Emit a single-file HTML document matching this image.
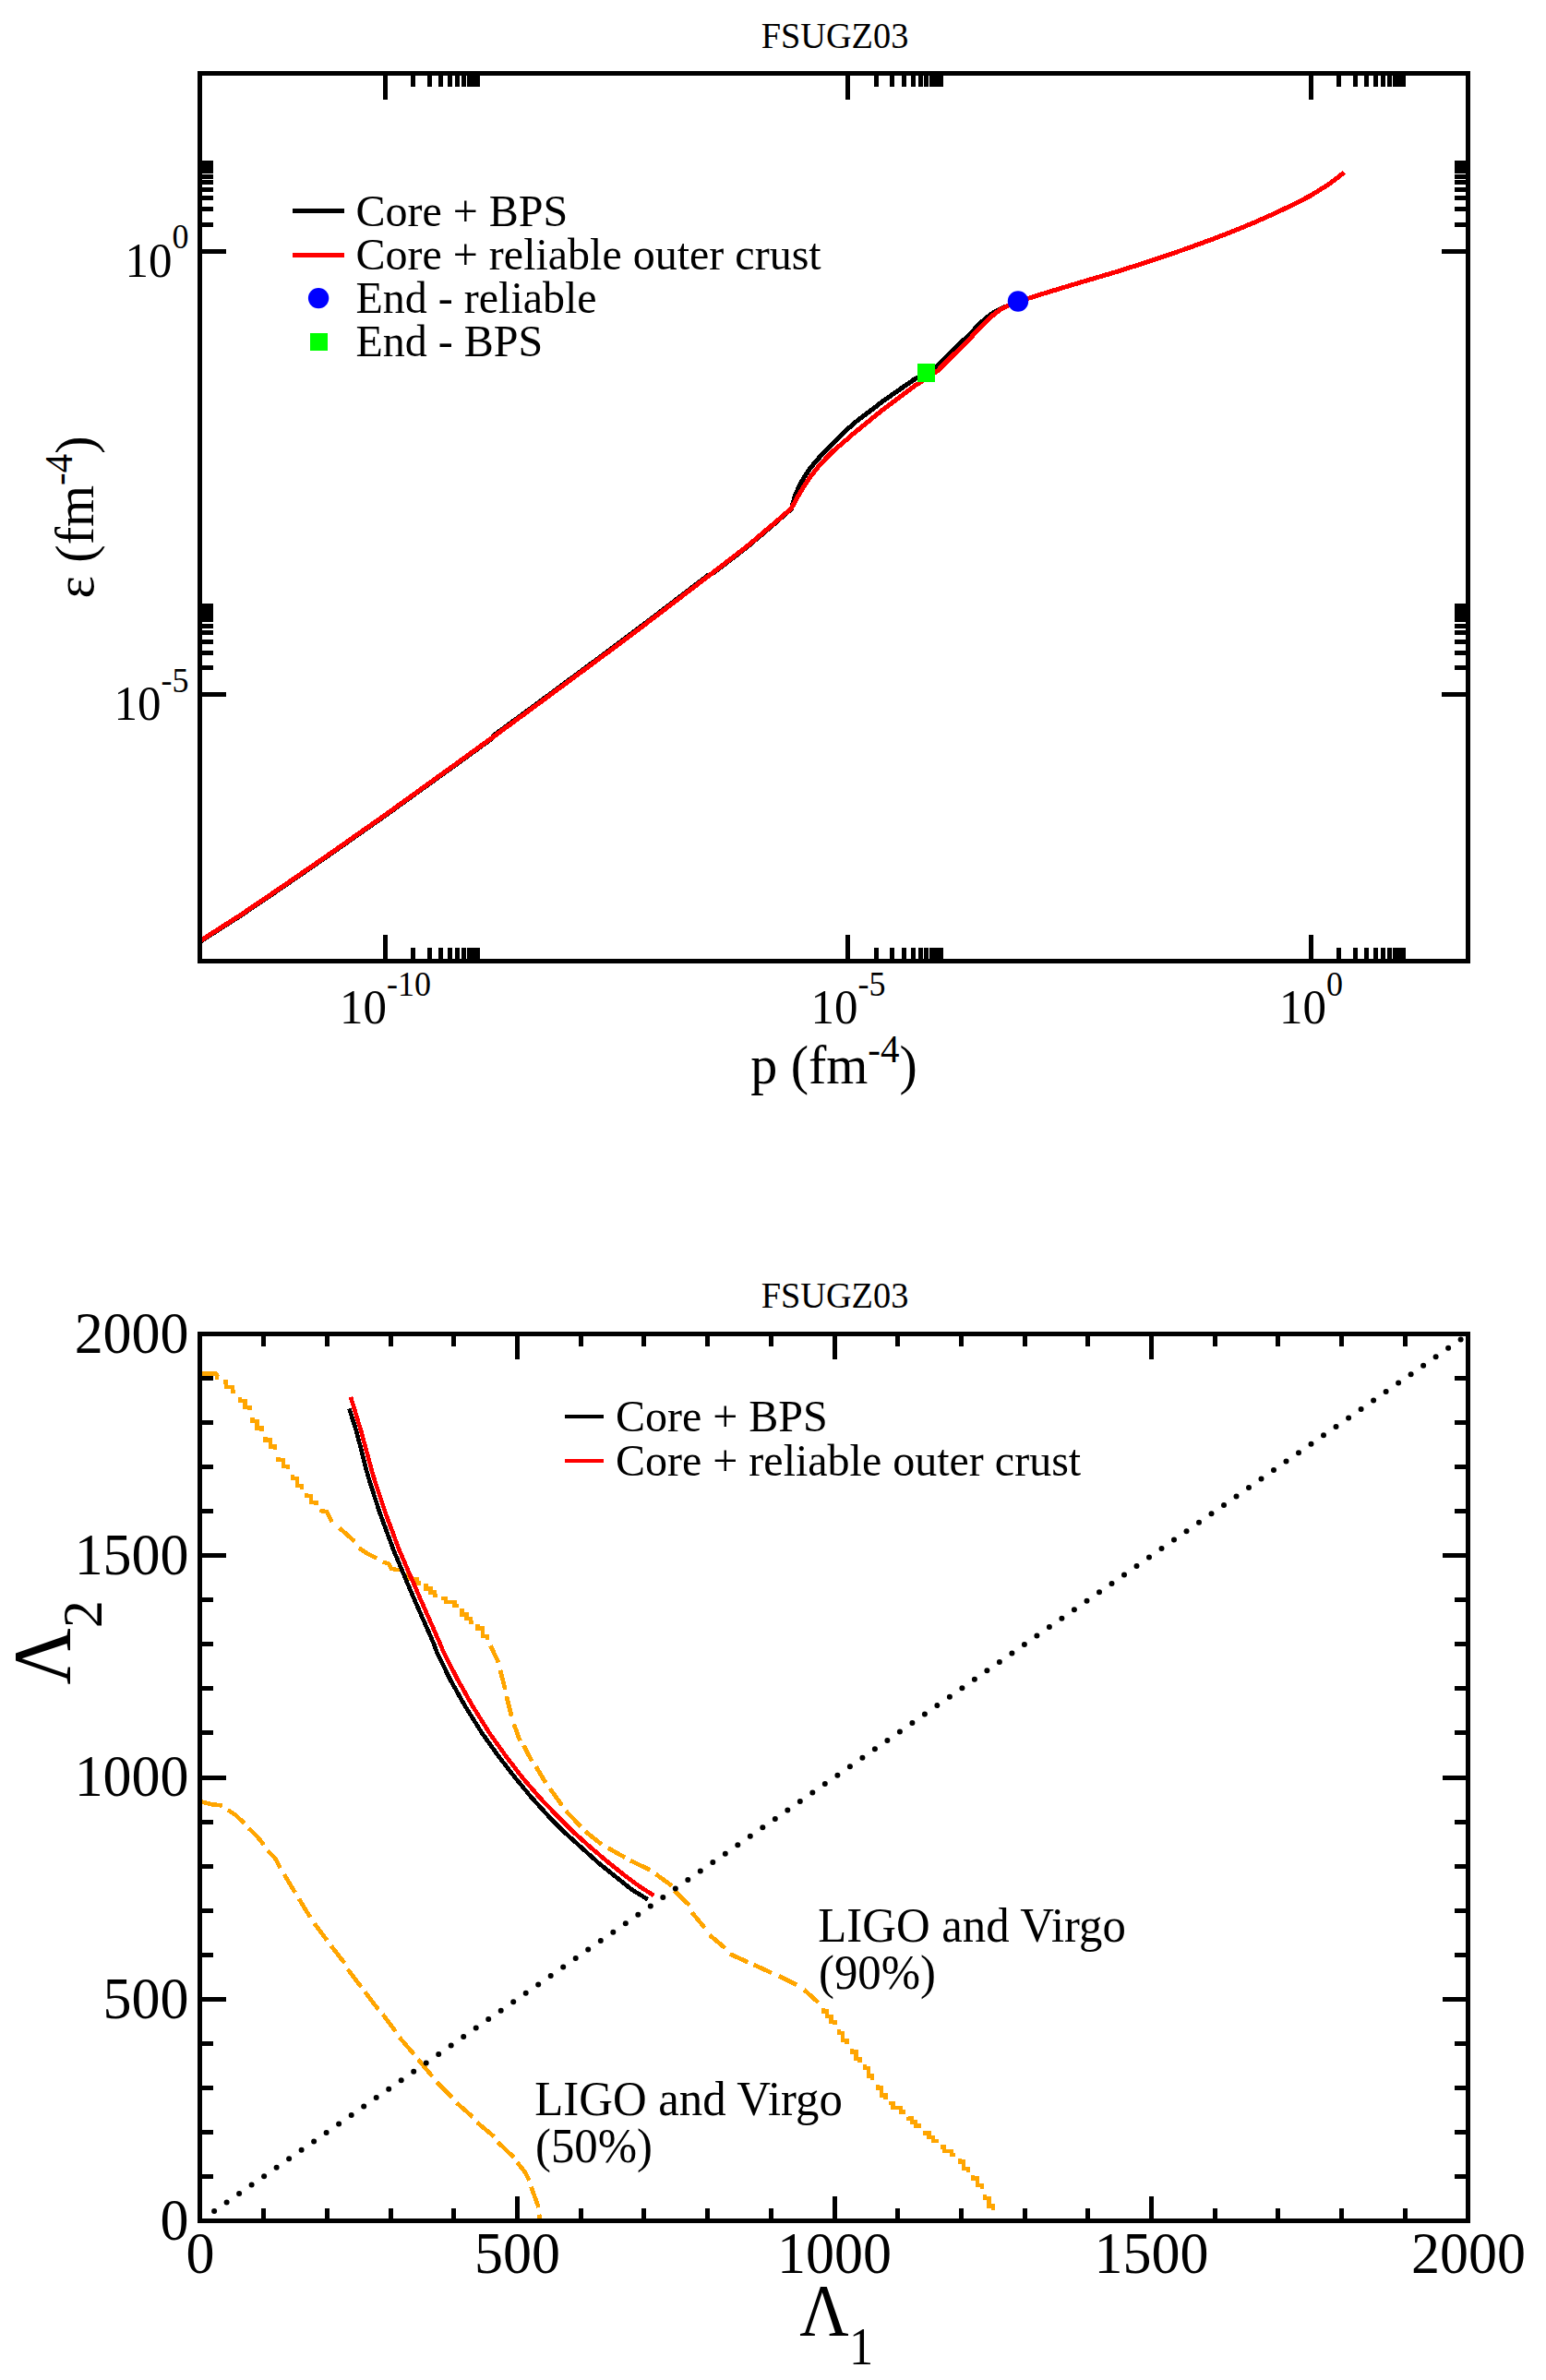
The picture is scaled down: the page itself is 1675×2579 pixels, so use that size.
<!DOCTYPE html>
<html lang="en">
<head>
<meta charset="utf-8">
<title>FSUGZ03</title>
<style>
html,body{margin:0;padding:0;background:#fff;}
body{width:1675px;height:2579px;overflow:hidden;}
svg{display:block;font-family:"Liberation Serif",serif;fill:#000;}
</style>
</head>
<body>
<svg width="1675" height="2579" viewBox="0 0 1675 2579">
<rect x="0" y="0" width="1675" height="2579" fill="#fff"/>
<!-- top plot: curves -->
<g shape-rendering="crispEdges" stroke-linejoin="round">
<polyline points="216.5,1020.5 260.0,992.6 304.0,962.8 360.0,924.1 417.0,884.0 500.0,824.2 533.0,800.2 535.0,796.9 580.0,763.9 660.0,704.7 700.0,674.7 767.0,623.5 773.0,620.8 810.0,592.3 840.0,566.8 857.3,551.5 861.8,536.1 867.0,524.5 872.2,515.5 878.6,506.4 885.1,498.6 894.2,488.9 903.2,479.9 916.8,466.5 925.0,458.8 957.3,434.2 989.7,411.7 1015.6,396.4 1022.0,390.0 1039.4,373.0 1052.3,360.5 1058.8,353.5 1065.3,347.3 1071.7,342.0 1078.2,337.5 1086.0,333.8 1092.0,331.3 1101.8,327.0" fill="none" stroke="#000" stroke-width="5"/>
<polyline points="216.5,1019.8 260.0,991.9 304.0,962.1 360.0,923.4 417.0,883.3 500.0,823.5 534.0,798.8 580.0,765.0 660.0,705.8 700.0,675.8 767.0,624.6 773.0,620.0 810.0,591.5 840.0,566.0 857.3,551.0 864.4,538.1 870.9,527.1 877.3,517.4 885.1,507.5 894.2,497.3 903.2,488.3 916.2,477.3 925.0,469.6 957.3,443.3 989.7,419.0 1015.6,402.0 1022.0,395.5 1039.4,378.2 1052.3,365.3 1065.3,351.7 1071.7,345.5 1078.2,339.5 1084.7,335.0 1091.2,331.6 1101.8,327.0 1120.0,321.5 1130.0,318.3 1170.0,306.2 1210.0,294.4 1235.0,286.5 1256.0,279.5 1286.0,269.3 1316.0,258.3 1340.0,249.0 1360.0,240.6 1380.0,231.8 1400.0,222.2 1420.0,212.0 1440.0,199.5 1456.4,186.8" fill="none" stroke="#f00" stroke-width="5"/>
</g>
<g shape-rendering="crispEdges">
<rect x="994" y="394" width="19" height="20" fill="#0f0"/>
<rect x="317" y="226" width="56" height="5" fill="#000"/>
<rect x="317" y="274" width="56" height="5" fill="#f00"/>
<rect x="335.5" y="361" width="19" height="19" fill="#0f0"/>
</g>
<!-- top plot: frame and ticks -->
<g shape-rendering="crispEdges" fill="#000">
<rect x="214" y="77" width="1379" height="5"/>
<rect x="214" y="1039" width="1379" height="5"/>
<rect x="214" y="77" width="5" height="967"/>
<rect x="1588" y="77" width="5" height="967"/>
<rect x="415" y="82" width="5" height="26"/>
<rect x="415" y="1013" width="5" height="26"/>
<rect x="445" y="82" width="5" height="12"/>
<rect x="445" y="1027" width="5" height="12"/>
<rect x="463" y="82" width="5" height="12"/>
<rect x="463" y="1027" width="5" height="12"/>
<rect x="475" y="82" width="5" height="12"/>
<rect x="475" y="1027" width="5" height="12"/>
<rect x="485" y="82" width="5" height="12"/>
<rect x="485" y="1027" width="5" height="12"/>
<rect x="493" y="82" width="5" height="12"/>
<rect x="493" y="1027" width="5" height="12"/>
<rect x="500" y="82" width="5" height="12"/>
<rect x="500" y="1027" width="5" height="12"/>
<rect x="506" y="82" width="5" height="12"/>
<rect x="506" y="1027" width="5" height="12"/>
<rect x="511" y="82" width="5" height="12"/>
<rect x="511" y="1027" width="5" height="12"/>
<rect x="515" y="82" width="5" height="12"/>
<rect x="515" y="1027" width="5" height="12"/>
<rect x="916" y="82" width="5" height="26"/>
<rect x="916" y="1013" width="5" height="26"/>
<rect x="947" y="82" width="5" height="12"/>
<rect x="947" y="1027" width="5" height="12"/>
<rect x="964" y="82" width="5" height="12"/>
<rect x="964" y="1027" width="5" height="12"/>
<rect x="977" y="82" width="5" height="12"/>
<rect x="977" y="1027" width="5" height="12"/>
<rect x="987" y="82" width="5" height="12"/>
<rect x="987" y="1027" width="5" height="12"/>
<rect x="995" y="82" width="5" height="12"/>
<rect x="995" y="1027" width="5" height="12"/>
<rect x="1001" y="82" width="5" height="12"/>
<rect x="1001" y="1027" width="5" height="12"/>
<rect x="1007" y="82" width="5" height="12"/>
<rect x="1007" y="1027" width="5" height="12"/>
<rect x="1012" y="82" width="5" height="12"/>
<rect x="1012" y="1027" width="5" height="12"/>
<rect x="1017" y="82" width="5" height="12"/>
<rect x="1017" y="1027" width="5" height="12"/>
<rect x="1418" y="82" width="5" height="26"/>
<rect x="1418" y="1013" width="5" height="26"/>
<rect x="1448" y="82" width="5" height="12"/>
<rect x="1448" y="1027" width="5" height="12"/>
<rect x="1466" y="82" width="5" height="12"/>
<rect x="1466" y="1027" width="5" height="12"/>
<rect x="1478" y="82" width="5" height="12"/>
<rect x="1478" y="1027" width="5" height="12"/>
<rect x="1488" y="82" width="5" height="12"/>
<rect x="1488" y="1027" width="5" height="12"/>
<rect x="1496" y="82" width="5" height="12"/>
<rect x="1496" y="1027" width="5" height="12"/>
<rect x="1503" y="82" width="5" height="12"/>
<rect x="1503" y="1027" width="5" height="12"/>
<rect x="1509" y="82" width="5" height="12"/>
<rect x="1509" y="1027" width="5" height="12"/>
<rect x="1514" y="82" width="5" height="12"/>
<rect x="1514" y="1027" width="5" height="12"/>
<rect x="1518" y="82" width="5" height="12"/>
<rect x="1518" y="1027" width="5" height="12"/>
<rect x="219" y="750" width="26" height="5"/>
<rect x="1562" y="750" width="26" height="5"/>
<rect x="219" y="721" width="12" height="5"/>
<rect x="1576" y="721" width="12" height="5"/>
<rect x="219" y="705" width="12" height="5"/>
<rect x="1576" y="705" width="12" height="5"/>
<rect x="219" y="693" width="12" height="5"/>
<rect x="1576" y="693" width="12" height="5"/>
<rect x="219" y="683" width="12" height="5"/>
<rect x="1576" y="683" width="12" height="5"/>
<rect x="219" y="676" width="12" height="5"/>
<rect x="1576" y="676" width="12" height="5"/>
<rect x="219" y="669" width="12" height="5"/>
<rect x="1576" y="669" width="12" height="5"/>
<rect x="219" y="664" width="12" height="5"/>
<rect x="1576" y="664" width="12" height="5"/>
<rect x="219" y="659" width="12" height="5"/>
<rect x="1576" y="659" width="12" height="5"/>
<rect x="219" y="654" width="12" height="5"/>
<rect x="1576" y="654" width="12" height="5"/>
<rect x="219" y="270" width="26" height="5"/>
<rect x="1562" y="270" width="26" height="5"/>
<rect x="219" y="241" width="12" height="5"/>
<rect x="1576" y="241" width="12" height="5"/>
<rect x="219" y="224" width="12" height="5"/>
<rect x="1576" y="224" width="12" height="5"/>
<rect x="219" y="212" width="12" height="5"/>
<rect x="1576" y="212" width="12" height="5"/>
<rect x="219" y="203" width="12" height="5"/>
<rect x="1576" y="203" width="12" height="5"/>
<rect x="219" y="195" width="12" height="5"/>
<rect x="1576" y="195" width="12" height="5"/>
<rect x="219" y="189" width="12" height="5"/>
<rect x="1576" y="189" width="12" height="5"/>
<rect x="219" y="183" width="12" height="5"/>
<rect x="1576" y="183" width="12" height="5"/>
<rect x="219" y="178" width="12" height="5"/>
<rect x="1576" y="178" width="12" height="5"/>
<rect x="219" y="174" width="12" height="5"/>
<rect x="1576" y="174" width="12" height="5"/>
</g>
<circle cx="1103" cy="326.5" r="11.2" fill="#00f"/><circle cx="345.1" cy="323.1" r="11.2" fill="#00f"/>
<!-- top plot: text -->
<text transform="translate(904.5,51.7) scale(1,1.02)" font-size="38.3" text-anchor="middle">FSUGZ03</text>
<text transform="translate(385.5,244.7) scale(1,1.03)" font-size="48">Core + BPS</text>
<text transform="translate(385.5,291.8) scale(1,1.03)" font-size="48">Core + reliable outer crust</text>
<text transform="translate(385.5,338.6) scale(1,1.03)" font-size="48">End - reliable</text>
<text transform="translate(385.5,385.7) scale(1,1.03)" font-size="48">End - BPS</text>
<text transform="translate(417.5,1109.3) scale(1,1.03)" font-size="51" text-anchor="middle">10<tspan font-size="36" dy="-29.6117">-10</tspan></text>
<text transform="translate(919,1109.3) scale(1,1.03)" font-size="51" text-anchor="middle">10<tspan font-size="36" dy="-29.6117">-5</tspan></text>
<text transform="translate(1420.5,1109.3) scale(1,1.03)" font-size="51" text-anchor="middle">10<tspan font-size="36" dy="-29.6117">0</tspan></text>
<text transform="translate(204.5,299.7) scale(1,1.03)" font-size="51" text-anchor="end">10<tspan font-size="36" dy="-29.6117">0</tspan></text>
<text transform="translate(204.5,780.2) scale(1,1.03)" font-size="51" text-anchor="end">10<tspan font-size="36" dy="-29.6117">-5</tspan></text>
<text transform="translate(903.5,1173.8) scale(1,1.03)" font-size="58" text-anchor="middle">p (fm<tspan font-size="41" dy="-22.1359">-4</tspan><tspan dy="22.1359">)</tspan></text>
<g transform="translate(100.8,560.5) rotate(-90)">
<text transform="translate(0,0) scale(1,1.03)" font-size="58" text-anchor="middle">ε (fm<tspan font-size="41" dy="-22.1359">-4</tspan><tspan dy="22.1359">)</tspan></text>
</g>
<!-- bottom plot: curves -->
<g shape-rendering="crispEdges" stroke-linejoin="round">
<path d="M241.8 1497.5 L245.2 1497.5 L245.2 1502.8 L252.0 1502.8 L252.0 1508.2 L255.4 1508.2 M260.2 1514.1 L260.2 1517.7 L265.3 1517.7 L265.3 1524.8 L270.4 1524.8 L270.4 1528.4 M273.4 1536.1 L273.4 1539.9 L278.5 1539.9 L278.5 1547.6 L283.6 1547.6 L283.6 1551.4 M287.3 1556.8 L287.3 1560.3 L292.8 1560.3 L292.8 1567.4 L298.2 1567.4 L298.2 1570.9 M301.5 1578.8 L301.5 1582.2 L306.8 1582.2 L306.8 1588.9 L312.0 1588.9 L312.0 1592.3 M317.1 1598.2 L317.1 1602.2 L322.0 1602.2 L322.0 1610.2 L326.9 1610.2 L326.9 1614.2 M331.8 1617.6 L331.8 1621.0 L337.2 1621.0 L337.2 1627.7 L342.5 1627.7 L342.5 1631.1 M346.4 1637.1 L353.9 1637.9 L359.6 1649.3 M414.7 1692.7 L421.2 1694.5 L423.8 1700.0 L433.6 1701.4 M439.5 1706.5 L443.5 1706.5 L443.5 1711.0 L451.5 1711.0 L451.5 1715.5 L455.5 1715.5 M459.1 1717.8 L461.6 1717.8 L461.6 1721.6 L466.4 1721.6 L466.4 1725.4 L471.2 1725.4 L471.2 1729.2 L473.7 1729.2 M478.2 1732.2 L482.9 1732.2 L482.9 1736.1 L492.3 1736.1 L492.3 1740.0 L497.0 1740.0 M498.2 1745.5 L500.6 1745.5 L500.6 1749.6 L505.4 1749.6 L505.4 1753.8 L510.2 1753.8 L510.2 1757.9 L512.6 1757.9 M517.6 1760.1 L517.6 1764.4 L522.9 1764.4 L522.9 1773.1 L528.1 1773.1 L528.1 1777.4 M891.8 2176.3 L891.8 2179.3 L896.1 2179.3 L896.1 2185.2 L900.3 2185.2 L900.3 2191.1 L904.6 2191.1 L904.6 2194.1 M908.7 2198.7 L908.7 2202.8 L913.0 2202.8 L913.0 2210.8 L917.4 2210.8 L917.4 2214.9 M923.1 2219.5 L923.1 2223.4 L927.3 2223.4 L927.3 2231.2 L931.5 2231.2 L931.5 2235.1 M937.1 2237.0 L937.1 2241.1 L941.0 2241.1 L941.0 2249.4 L944.9 2249.4 L944.9 2253.5 M951.1 2258.5 L951.1 2262.6 L955.2 2262.6 L955.2 2270.6 L959.3 2270.6 L959.3 2274.7 M963.0 2279.2 L967.4 2279.2 L967.4 2283.8 L976.1 2283.8 L976.1 2288.5 L980.5 2288.5 M983.9 2293.6 L983.9 2295.6 L987.9 2295.6 L987.9 2299.6 L991.8 2299.6 L991.8 2303.6 L995.8 2303.6 L995.8 2305.6 M1002.0 2309.2 L1002.0 2311.4 L1006.4 2311.4 L1006.4 2315.8 L1010.8 2315.8 L1010.8 2320.2 L1015.2 2320.2 L1015.2 2322.4 M1018.6 2326.3 L1022.7 2326.3 L1022.7 2330.7 L1030.7 2330.7 L1030.7 2335.0 L1034.8 2335.0 M1039.7 2338.8 L1039.7 2342.5 L1044.2 2342.5 L1044.2 2349.9 L1048.7 2349.9 L1048.7 2353.6 M1053.9 2356.9 L1053.9 2360.6 L1059.0 2360.6 L1059.0 2368.0 L1064.2 2368.0 L1064.2 2371.7 M1067.0 2377.5 L1067.0 2381.9 L1071.3 2381.9 L1071.3 2390.6 L1075.7 2390.6 L1075.7 2395.0" fill="none" stroke="#ffa500" stroke-width="4.4" stroke-linejoin="miter"/>
<path d="M218.1 1488.4 L233.5 1488.4 L235.2 1490.0 L235.0 1495.3 M367.8 1655.8 L384.0 1670.1 M388.8 1677.3 L397.0 1683.0 L408.3 1688.7 M531.4 1783.1 L540.0 1801.3 M541.9 1809.7 L547.4 1830.8 M548.8 1838.0 L554.2 1859.8 M556.7 1868.2 L563.4 1886.3 M567.3 1891.4 L576.3 1908.5 M580.6 1914.1 L591.2 1931.9 M595.9 1938.1 L608.9 1956.3 M613.0 1962.3 L629.2 1979.1 M634.2 1984.5 L651.9 1998.7 M658.6 2002.4 L677.1 2012.8 M683.1 2016.2 L704.2 2026.3 M710.4 2030.7 L728.0 2043.5 M730.8 2049.0 L746.8 2064.4 M749.6 2072.3 L763.5 2089.0 M768.9 2097.0 L785.6 2110.9 M790.8 2117.4 L810.3 2126.2 M816.6 2129.0 L836.1 2137.9 M843.8 2141.1 L863.3 2150.9 M871.1 2156.0 L886.5 2169.9" fill="none" stroke="#ffa500" stroke-width="4.7"/>
<path d="M218.8 1952.7 L228.5 1955.1 L240.7 1956.5 M246.8 1961.3 L255.6 1967.0 L264.6 1975.7 M269.5 1981.3 L278.9 1990.3 L285.8 1999.1 M290.2 2005.4 L298.3 2014.1 L303.8 2024.2 M307.9 2031.2 L319.8 2050.8 M323.9 2057.6 L336.1 2077.5 M340.6 2084.2 L354.3 2102.6 M358.7 2108.5 L373.2 2127.1 M376.8 2133.9 L391.3 2153.0 M395.5 2158.5 L410.0 2177.6 M414.7 2182.8 L428.7 2201.3 M432.6 2207.6 L448.4 2225.8 M453.0 2231.5 L468.3 2250.0 M473.3 2256.3 L489.7 2272.6 M494.6 2278.6 L512.1 2293.9 M516.9 2299.9 L535.4 2315.3 M539.3 2321.3 L556.6 2337.6 M560.3 2343.1 L568.8 2353.7 L573.6 2362.9 M575.4 2369.6 L583.6 2392.1 M584.2 2399.6 L584.8 2404.6" fill="none" stroke="#ffa500" stroke-width="4.6"/>
<polyline points="378.4,1526.5 385.9,1550.0 398.8,1600.0 411.7,1640.0 426.5,1680.0 447.5,1730.0 469.5,1780.0 473.5,1790.8 487.6,1819.8 503.9,1848.7 522.0,1877.7 540.2,1903.1 558.3,1926.6 576.4,1948.4 594.5,1968.3 612.6,1986.4 630.7,2002.7 648.8,2019.0 666.9,2033.5 685.0,2048.0 701.9,2058.3" fill="none" stroke="#000" stroke-width="4.6"/>
<polyline points="380.0,1513.9 391.0,1550.0 404.6,1600.0 417.8,1640.0 432.7,1680.0 454.3,1730.0 476.3,1780.0 480.8,1790.8 495.7,1819.8 512.0,1848.7 530.1,1877.7 548.2,1903.1 566.3,1926.6 584.4,1947.5 602.5,1966.5 620.6,1984.6 638.8,2000.9 656.9,2016.3 675.0,2030.8 693.1,2044.3 708.4,2054.0" fill="none" stroke="#f00" stroke-width="4.6"/>
</g>
<g fill="#000"><circle cx="232.1" cy="2395.9" r="3"/><circle cx="245.6" cy="2386.5" r="3"/><circle cx="259.1" cy="2377.0" r="3"/><circle cx="272.6" cy="2367.6" r="3"/><circle cx="286.1" cy="2358.2" r="3"/><circle cx="299.6" cy="2348.7" r="3"/><circle cx="313.1" cy="2339.3" r="3"/><circle cx="326.6" cy="2329.8" r="3"/><circle cx="340.1" cy="2320.4" r="3"/><circle cx="353.6" cy="2310.9" r="3"/><circle cx="367.1" cy="2301.5" r="3"/><circle cx="380.7" cy="2292.0" r="3"/><circle cx="394.2" cy="2282.6" r="3"/><circle cx="407.7" cy="2273.1" r="3"/><circle cx="421.2" cy="2263.7" r="3"/><circle cx="434.7" cy="2254.3" r="3"/><circle cx="448.2" cy="2244.8" r="3"/><circle cx="461.7" cy="2235.4" r="3"/><circle cx="475.2" cy="2225.9" r="3"/><circle cx="488.7" cy="2216.5" r="3"/><circle cx="502.2" cy="2207.0" r="3"/><circle cx="515.7" cy="2197.6" r="3"/><circle cx="529.2" cy="2188.1" r="3"/><circle cx="542.7" cy="2178.7" r="3"/><circle cx="556.2" cy="2169.2" r="3"/><circle cx="569.7" cy="2159.8" r="3"/><circle cx="583.2" cy="2150.4" r="3"/><circle cx="596.7" cy="2140.9" r="3"/><circle cx="610.2" cy="2131.5" r="3"/><circle cx="623.7" cy="2122.0" r="3"/><circle cx="637.2" cy="2112.6" r="3"/><circle cx="650.8" cy="2103.1" r="3"/><circle cx="664.3" cy="2093.7" r="3"/><circle cx="677.8" cy="2084.2" r="3"/><circle cx="691.3" cy="2074.8" r="3"/><circle cx="704.8" cy="2065.4" r="3"/><circle cx="718.3" cy="2055.9" r="3"/><circle cx="731.8" cy="2046.5" r="3"/><circle cx="745.3" cy="2037.0" r="3"/><circle cx="758.8" cy="2027.6" r="3"/><circle cx="772.3" cy="2018.1" r="3"/><circle cx="785.8" cy="2008.7" r="3"/><circle cx="799.3" cy="1999.2" r="3"/><circle cx="812.8" cy="1989.8" r="3"/><circle cx="826.3" cy="1980.3" r="3"/><circle cx="839.8" cy="1970.9" r="3"/><circle cx="853.3" cy="1961.5" r="3"/><circle cx="866.8" cy="1952.0" r="3"/><circle cx="880.3" cy="1942.6" r="3"/><circle cx="893.8" cy="1933.1" r="3"/><circle cx="907.4" cy="1923.7" r="3"/><circle cx="920.9" cy="1914.2" r="3"/><circle cx="934.4" cy="1904.8" r="3"/><circle cx="947.9" cy="1895.3" r="3"/><circle cx="961.4" cy="1885.9" r="3"/><circle cx="974.9" cy="1876.4" r="3"/><circle cx="988.4" cy="1867.0" r="3"/><circle cx="1001.9" cy="1857.6" r="3"/><circle cx="1015.4" cy="1848.1" r="3"/><circle cx="1028.9" cy="1838.7" r="3"/><circle cx="1042.4" cy="1829.2" r="3"/><circle cx="1055.9" cy="1819.8" r="3"/><circle cx="1069.4" cy="1810.3" r="3"/><circle cx="1082.9" cy="1800.9" r="3"/><circle cx="1096.4" cy="1791.4" r="3"/><circle cx="1109.9" cy="1782.0" r="3"/><circle cx="1123.4" cy="1772.5" r="3"/><circle cx="1136.9" cy="1763.1" r="3"/><circle cx="1150.4" cy="1753.7" r="3"/><circle cx="1163.9" cy="1744.2" r="3"/><circle cx="1177.5" cy="1734.8" r="3"/><circle cx="1191.0" cy="1725.3" r="3"/><circle cx="1204.5" cy="1715.9" r="3"/><circle cx="1218.0" cy="1706.4" r="3"/><circle cx="1231.5" cy="1697.0" r="3"/><circle cx="1245.0" cy="1687.5" r="3"/><circle cx="1258.5" cy="1678.1" r="3"/><circle cx="1272.0" cy="1668.6" r="3"/><circle cx="1285.5" cy="1659.2" r="3"/><circle cx="1299.0" cy="1649.8" r="3"/><circle cx="1312.5" cy="1640.3" r="3"/><circle cx="1326.0" cy="1630.9" r="3"/><circle cx="1339.5" cy="1621.4" r="3"/><circle cx="1353.0" cy="1612.0" r="3"/><circle cx="1366.5" cy="1602.5" r="3"/><circle cx="1380.0" cy="1593.1" r="3"/><circle cx="1393.5" cy="1583.6" r="3"/><circle cx="1407.0" cy="1574.2" r="3"/><circle cx="1420.5" cy="1564.7" r="3"/><circle cx="1434.0" cy="1555.3" r="3"/><circle cx="1447.5" cy="1545.9" r="3"/><circle cx="1461.1" cy="1536.4" r="3"/><circle cx="1474.6" cy="1527.0" r="3"/><circle cx="1488.1" cy="1517.5" r="3"/><circle cx="1501.6" cy="1508.1" r="3"/><circle cx="1515.1" cy="1498.6" r="3"/><circle cx="1528.6" cy="1489.2" r="3"/><circle cx="1542.1" cy="1479.7" r="3"/><circle cx="1555.6" cy="1470.3" r="3"/><circle cx="1569.1" cy="1460.8" r="3"/><circle cx="1582.6" cy="1451.4" r="3"/></g>
<g shape-rendering="crispEdges">
<rect x="612" y="1533" width="42" height="4" fill="#000"/>
<rect x="612" y="1581" width="42" height="4" fill="#f00"/>
</g>
<!-- bottom plot: frame and ticks -->
<g shape-rendering="crispEdges" fill="#000">
<rect x="214" y="1443" width="1379" height="5"/>
<rect x="214" y="2404" width="1379" height="5"/>
<rect x="214" y="1443" width="5" height="966"/>
<rect x="1588" y="1443" width="5" height="966"/>
<rect x="283" y="1448" width="5" height="11"/>
<rect x="283" y="2393" width="5" height="11"/>
<rect x="219" y="2356" width="12" height="5"/>
<rect x="1576" y="2356" width="12" height="5"/>
<rect x="352" y="1448" width="5" height="11"/>
<rect x="352" y="2393" width="5" height="11"/>
<rect x="219" y="2308" width="12" height="5"/>
<rect x="1576" y="2308" width="12" height="5"/>
<rect x="421" y="1448" width="5" height="11"/>
<rect x="421" y="2393" width="5" height="11"/>
<rect x="219" y="2260" width="12" height="5"/>
<rect x="1576" y="2260" width="12" height="5"/>
<rect x="489" y="1448" width="5" height="11"/>
<rect x="489" y="2393" width="5" height="11"/>
<rect x="219" y="2212" width="12" height="5"/>
<rect x="1576" y="2212" width="12" height="5"/>
<rect x="558" y="1448" width="5" height="24.5"/>
<rect x="558" y="2379.5" width="5" height="24.5"/>
<rect x="219" y="2164" width="25.5" height="5"/>
<rect x="1562.5" y="2164" width="25.5" height="5"/>
<rect x="627" y="1448" width="5" height="11"/>
<rect x="627" y="2393" width="5" height="11"/>
<rect x="219" y="2116" width="12" height="5"/>
<rect x="1576" y="2116" width="12" height="5"/>
<rect x="695" y="1448" width="5" height="11"/>
<rect x="695" y="2393" width="5" height="11"/>
<rect x="219" y="2068" width="12" height="5"/>
<rect x="1576" y="2068" width="12" height="5"/>
<rect x="764" y="1448" width="5" height="11"/>
<rect x="764" y="2393" width="5" height="11"/>
<rect x="219" y="2020" width="12" height="5"/>
<rect x="1576" y="2020" width="12" height="5"/>
<rect x="833" y="1448" width="5" height="11"/>
<rect x="833" y="2393" width="5" height="11"/>
<rect x="219" y="1972" width="12" height="5"/>
<rect x="1576" y="1972" width="12" height="5"/>
<rect x="902" y="1448" width="5" height="24.5"/>
<rect x="902" y="2379.5" width="5" height="24.5"/>
<rect x="219" y="1924" width="25.5" height="5"/>
<rect x="1562.5" y="1924" width="25.5" height="5"/>
<rect x="970" y="1448" width="5" height="11"/>
<rect x="970" y="2393" width="5" height="11"/>
<rect x="219" y="1875" width="12" height="5"/>
<rect x="1576" y="1875" width="12" height="5"/>
<rect x="1039" y="1448" width="5" height="11"/>
<rect x="1039" y="2393" width="5" height="11"/>
<rect x="219" y="1827" width="12" height="5"/>
<rect x="1576" y="1827" width="12" height="5"/>
<rect x="1108" y="1448" width="5" height="11"/>
<rect x="1108" y="2393" width="5" height="11"/>
<rect x="219" y="1779" width="12" height="5"/>
<rect x="1576" y="1779" width="12" height="5"/>
<rect x="1176" y="1448" width="5" height="11"/>
<rect x="1176" y="2393" width="5" height="11"/>
<rect x="219" y="1731" width="12" height="5"/>
<rect x="1576" y="1731" width="12" height="5"/>
<rect x="1245" y="1448" width="5" height="24.5"/>
<rect x="1245" y="2379.5" width="5" height="24.5"/>
<rect x="219" y="1683" width="25.5" height="5"/>
<rect x="1562.5" y="1683" width="25.5" height="5"/>
<rect x="1314" y="1448" width="5" height="11"/>
<rect x="1314" y="2393" width="5" height="11"/>
<rect x="219" y="1635" width="12" height="5"/>
<rect x="1576" y="1635" width="12" height="5"/>
<rect x="1382" y="1448" width="5" height="11"/>
<rect x="1382" y="2393" width="5" height="11"/>
<rect x="219" y="1587" width="12" height="5"/>
<rect x="1576" y="1587" width="12" height="5"/>
<rect x="1451" y="1448" width="5" height="11"/>
<rect x="1451" y="2393" width="5" height="11"/>
<rect x="219" y="1539" width="12" height="5"/>
<rect x="1576" y="1539" width="12" height="5"/>
<rect x="1520" y="1448" width="5" height="11"/>
<rect x="1520" y="2393" width="5" height="11"/>
<rect x="219" y="1491" width="12" height="5"/>
<rect x="1576" y="1491" width="12" height="5"/>
</g>
<!-- bottom plot: text -->
<text transform="translate(904.5,1416.6) scale(1,1.02)" font-size="38.3" text-anchor="middle">FSUGZ03</text>
<text transform="translate(667,1551.4) scale(1,1.03)" font-size="48">Core + BPS</text>
<text transform="translate(667,1598.7) scale(1,1.03)" font-size="48">Core + reliable outer crust</text>
<text transform="translate(886.3,2104.1) scale(1,1.03)" font-size="50.8">LIGO and Virgo</text>
<text transform="translate(887,2154.5) scale(1,1.03)" font-size="50.8">(90%)</text>
<text transform="translate(579.3,2292) scale(1,1.03)" font-size="50.8">LIGO and Virgo</text>
<text transform="translate(580,2342.5) scale(1,1.03)" font-size="50.8">(50%)</text>
<text transform="translate(217,2463.3) scale(1,1.03)" font-size="62" text-anchor="middle">0</text>
<text transform="translate(204.6,2426.8) scale(1,1.03)" font-size="62" text-anchor="end">0</text>
<text transform="translate(560.5,2463.3) scale(1,1.03)" font-size="62" text-anchor="middle">500</text>
<text transform="translate(204.6,2186.55) scale(1,1.03)" font-size="62" text-anchor="end">500</text>
<text transform="translate(904,2463.3) scale(1,1.03)" font-size="62" text-anchor="middle">1000</text>
<text transform="translate(204.6,1946.3) scale(1,1.03)" font-size="62" text-anchor="end">1000</text>
<text transform="translate(1247.5,2463.3) scale(1,1.03)" font-size="62" text-anchor="middle">1500</text>
<text transform="translate(204.6,1706.05) scale(1,1.03)" font-size="62" text-anchor="end">1500</text>
<text transform="translate(1591,2463.3) scale(1,1.03)" font-size="62" text-anchor="middle">2000</text>
<text transform="translate(204.6,1465.8) scale(1,1.03)" font-size="62" text-anchor="end">2000</text>
<text transform="translate(906.2,2531) scale(0.935,1.03)" font-size="79" text-anchor="middle">Λ<tspan font-size="56" dy="29.8">1</tspan></text>
<text transform="translate(74.8,1779.9) rotate(-90) scale(0.963,1)" font-size="88" text-anchor="middle">Λ<tspan font-size="62" dy="35">2</tspan></text>
</svg>
</body>
</html>
